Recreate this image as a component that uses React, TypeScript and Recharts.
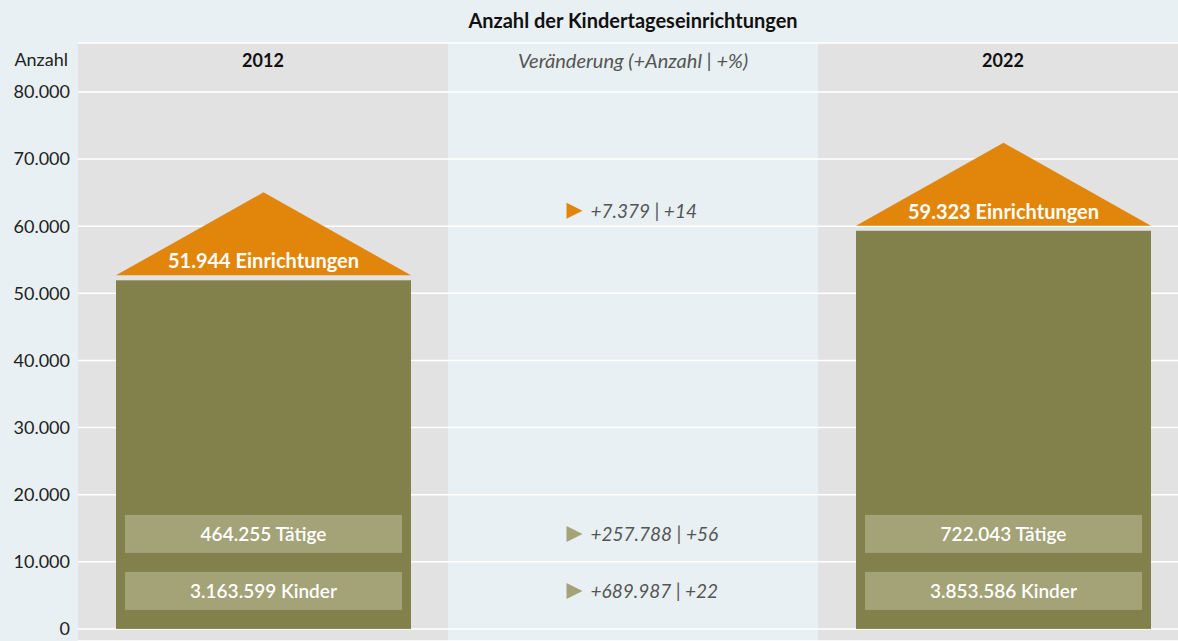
import { ComposedChart, Bar, XAxis, YAxis, CartesianGrid } from 'recharts'

// values
const categories = ['2012', 'Veränderung (+Anzahl | +%)', '2022']
const einrichtungen = [51944, null, 59323]
const taetige = [464255, null, 722043]
const kinder = [3163599, null, 3853586]
const yTicks = [0, 10000, 20000, 30000, 40000, 50000, 60000, 70000, 80000]

const FONT = 'Lato, "Noto Sans", sans-serif'
const BG = '#e8f0f3'
const BAND = '#e2e2e2'
const OLIVE = '#82814b'
const LIGHT = '#a4a277'
const ORANGE = '#e2860b'
const GREY_TEXT = '#555'

const fmt = (n: number) => String(Math.round(n)).replace(/\B(?=(\d{3})+(?!\d))/g, '.')

const change = (list: (number | null)[]) => {
  const a = list[0] as number
  const b = list[2] as number
  return { abs: b - a, pct: Math.round(((b - a) / a) * 100) }
}

const changes = [change(einrichtungen), change(taetige), change(kinder)]

// middle column: anchored at the 2022 level so the notes line up with the 2022 labels
const changeLevel = [null, einrichtungen[2], null]

const rows = categories.map((c, i) => ({
  category: c,
  einrichtungen: einrichtungen[i],
  level: changeLevel[i],
  taetige: taetige[i],
  kinder: kinder[i],
}))

function HouseShape(props: any) {
  const { x, y, width, height, payload } = props
  if (payload.einrichtungen == null || !height) return null
  const cx = x + width / 2
  const bottom = y + height
  const roofBase = y - 5
  const roofTop = roofBase - 83
  return (
    <g>
      <rect x={x} y={y} width={width} height={height} fill={OLIVE} />
      <polygon points={`${x},${roofBase} ${x + width},${roofBase} ${cx},${roofTop}`} fill={ORANGE} />
      <text x={cx} y={y - 20} textAnchor="middle" dominantBaseline="central" fill="#fff" fontWeight={700} fontSize={20} fontFamily={FONT}>
        {fmt(payload.einrichtungen)} Einrichtungen
      </text>
      <rect x={x + 9} y={bottom - 114} width={width - 18} height={38} fill={LIGHT} />
      <text x={cx} y={bottom - 95} textAnchor="middle" dominantBaseline="central" fill="#fff" fontWeight={600} fontSize={19} fontFamily={FONT}>
        {fmt(payload.taetige)} Tätige
      </text>
      <rect x={x + 9} y={bottom - 57} width={width - 18} height={38} fill={LIGHT} />
      <text x={cx} y={bottom - 38} textAnchor="middle" dominantBaseline="central" fill="#fff" fontWeight={600} fontSize={19} fontFamily={FONT}>
        {fmt(payload.kinder)} Kinder
      </text>
    </g>
  )
}

function ChangeShape(props: any) {
  const { x, y, width, height, payload } = props
  if (payload.level == null || !height) return null
  const left = x + width / 2 - 67
  const bottom = y + height
  const lines = [
    { cy: y - 20, color: ORANGE, c: changes[0] },
    { cy: bottom - 95, color: LIGHT, c: changes[1] },
    { cy: bottom - 38, color: LIGHT, c: changes[2] },
  ]
  return (
    <g>
      {lines.map((l, i) => (
        <g key={i}>
          <polygon points={`${left},${l.cy - 8} ${left + 16},${l.cy} ${left},${l.cy + 8}`} fill={l.color} />
          <text x={left + 24} y={l.cy} dominantBaseline="central" fill={GREY_TEXT} fontStyle="italic" fontSize={19} fontFamily={FONT}>
            +{fmt(l.c.abs)} | +{l.c.pct}
          </text>
        </g>
      ))}
    </g>
  )
}

function CategoryTick(props: any) {
  const { x, y, payload } = props
  const middle = payload.value === categories[1]
  return (
    <text x={x} y={y + 25} textAnchor="middle" dominantBaseline="central" fontFamily={FONT} fontSize={middle ? 20 : 18}
      fontWeight={middle ? 400 : 700} fontStyle={middle ? 'italic' : 'normal'} fill={middle ? GREY_TEXT : '#111'}>
      {payload.value}
    </text>
  )
}

// grey bands behind 2012 and 2022: stripe edges at the category band borders
const bandEdges = ({ offset }: any) =>
  categories.map((_, i) => offset.left + (i * offset.width) / categories.length)

export default function App() {
  return (
    <div style={{ position: 'absolute', left: 0, top: 0, width: 1178, height: 641, overflow: 'hidden', background: BG }}>
      <div style={{ position: 'absolute', top: 0, left: 78, width: 1110, height: 40, lineHeight: '40px', textAlign: 'center', fontFamily: FONT, fontWeight: 700, fontSize: 20, color: '#111' }}>
        Anzahl der Kindertageseinrichtungen
      </div>
      <ComposedChart width={1188} height={641} data={rows} margin={{ top: 13, right: 0, bottom: 0, left: 0 }}>
        <CartesianGrid
          horizontal={false}
          vertical={() => <g />}
          verticalCoordinatesGenerator={bandEdges}
          verticalFill={[BAND, BG, BAND]}
          fillOpacity={1}
        />
        <CartesianGrid horizontal vertical={false} stroke="#fff" strokeWidth={1.5} />
        <XAxis dataKey="category" orientation="top" height={30} axisLine={false} tickLine={false} tick={<CategoryTick />} interval={0} />
        <YAxis
          width={78}
          domain={[-1800, 87300]}
          ticks={yTicks}
          tickFormatter={fmt}
          axisLine={false}
          tickLine={false}
          tick={{ fontSize: 18, fill: '#222', fontFamily: FONT }}
          label={({ viewBox }: any) => (
            <text x={viewBox.x + viewBox.width - 10} y={viewBox.y + 23} textAnchor="end" fontSize={18} fill="#222" fontFamily={FONT}>
              Anzahl
            </text>
          )}
        />
        <Bar dataKey="einrichtungen" stackId="a" barSize={295} shape={<HouseShape />} isAnimationActive={false} />
        <Bar dataKey="level" stackId="a" barSize={295} shape={<ChangeShape />} isAnimationActive={false} />
      </ComposedChart>
    </div>
  )
}
